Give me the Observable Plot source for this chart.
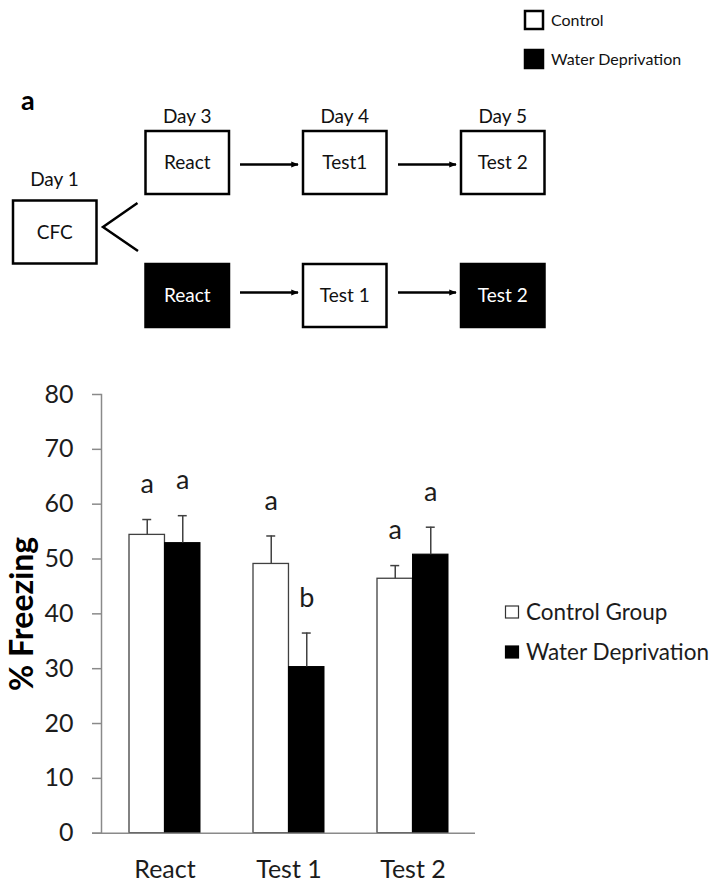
<!DOCTYPE html>
<html>
<head>
<meta charset="utf-8">
<script src="https://cdn.jsdelivr.net/npm/d3@7"></script>
<script src="https://cdn.jsdelivr.net/npm/@observablehq/plot@0.6"></script>
<style>
  html, body { margin: 0; padding: 0; background: #fff; }
  body { width: 715px; height: 886px; position: relative; overflow: hidden; font-family: Lato, "Open Sans", sans-serif; }
  #overlay { position: absolute; left: 0; top: 0; }
  #chart { position: absolute; left: 0; top: 370px; }
  #chart g[aria-label="y-axis tick"] { stroke: #8a8a8a; stroke-width: 1.5; }
</style>
</head>
<body>
<svg id="overlay" width="715" height="886"></svg>
<div id="chart"></div>
<script>
// ---------- data ----------
const categories = ["React", "Test 1", "Test 2"];
const groups = ["Control Group", "Water Deprivation"];
const controlMeans = [54.4, 49.1, 46.4];
const controlErr = [2.8, 5.1, 2.4];
const wdMeans = [52.9, 30.3, 50.8];
const wdErr = [5.0, 6.2, 5.0];
const controlLetters = ["a", "a", "a"];
const wdLetters = ["a", "b", "a"];
const yTicks = [0, 10, 20, 30, 40, 50, 60, 70, 80];
const yLabel = "% Freezing";

// schematic labels
const panelLabel = "a";
const schemeLegend = ["Control", "Water Deprivation"];
const dayLabels = ["Day 1", "Day 3", "Day 4", "Day 5"];
const startStep = "CFC";
const topSteps = ["React", "Test1", "Test 2"];
const bottomSteps = ["React", "Test 1", "Test 2"];
const bottomFilled = [true, false, true];

// ---------- bar chart ----------
const W = 480, H = 516, ML = 101, MR = 5, MT = 24, MB = 53.3;
const padIn = 0.43, padOut = 0.215;
const step = (W - ML - MR) / (categories.length - padIn + 2 * padOut);
const bw = step * (1 - padIn);
const capHalf = 4.5;

const ctrl = categories.map((c, i) => ({cat: c, value: controlMeans[i], top: controlMeans[i] + controlErr[i], letter: controlLetters[i]}));
const wd = categories.map((c, i) => ({cat: c, value: wdMeans[i], top: wdMeans[i] + wdErr[i], letter: wdLetters[i]}));

const axisGray = "#8a8a8a";
const errColor = "#404040";
const textColor = "#1c1c1c";

const chart = Plot.plot({
  width: W, height: H,
  marginLeft: ML, marginRight: MR, marginTop: MT, marginBottom: MB,
  style: {fontFamily: "Lato, 'Open Sans', sans-serif", background: "transparent", overflow: "visible"},
  x: {domain: categories, paddingInner: padIn, paddingOuter: padOut, label: null},
  y: {domain: [0, 80], label: null},
  marks: [
    Plot.axisY({ticks: yTicks, tickSize: 9, tickPadding: 19, fontSize: 25, color: textColor, label: null}),
    Plot.axisX({tickSize: 0, tickPadding: 27, fontSize: 25, color: textColor, label: null}),
    Plot.barY(ctrl, {x: "cat", y: "value", fill: "white", stroke: errColor, strokeWidth: 1.3, insetRight: bw / 2}),
    Plot.barY(wd, {x: "cat", y: "value", fill: "black", stroke: "black", strokeWidth: 1, insetLeft: bw / 2}),
    Plot.ruleX(ctrl, {x: "cat", y1: "value", y2: "top", dx: -bw / 4, stroke: errColor, strokeWidth: 1.5}),
    Plot.ruleX(wd, {x: "cat", y1: "value", y2: "top", dx: bw / 4, stroke: errColor, strokeWidth: 1.5}),
    Plot.tickY(ctrl, {x: "cat", y: "top", insetLeft: bw / 4 - capHalf, insetRight: 3 * bw / 4 - capHalf, stroke: errColor, strokeWidth: 1.5}),
    Plot.tickY(wd, {x: "cat", y: "top", insetLeft: 3 * bw / 4 - capHalf, insetRight: bw / 4 - capHalf, stroke: errColor, strokeWidth: 1.5}),
    Plot.text(ctrl, {x: "cat", y: "top", text: "letter", dx: -bw / 4, dy: -35, fontSize: 27, fill: textColor}),
    Plot.text(wd, {x: "cat", y: "top", text: "letter", dx: bw / 4, dy: -35, fontSize: 27, fill: textColor}),
    Plot.frame({anchor: "left", stroke: axisGray, strokeWidth: 1.5}),
    Plot.ruleY([0], {stroke: axisGray, strokeWidth: 1.5, insetLeft: -9}),
    Plot.text([yLabel], {frameAnchor: "left", textAnchor: "middle", dx: -79, rotate: -90, fontSize: 32, fontWeight: "bold", fill: "#000"})
  ]
});
document.getElementById("chart").appendChild(chart);

// ---------- schematic + legends (overlay) ----------
const svg = d3.select("#overlay");
const font = "Lato, 'Open Sans', sans-serif";
const ink = "#111";

svg.append("defs").append("marker")
  .attr("id", "arrow").attr("viewBox", "0 0 10 10").attr("refX", 9).attr("refY", 5)
  .attr("markerWidth", 3).attr("markerHeight", 3).attr("orient", "auto")
  .append("path").attr("d", "M0,1L10,5L0,9Z").attr("fill", "#000");

// top legend
const schemeFills = ["white", "black"];
schemeLegend.forEach((lab, i) => {
  const y0 = 11 + i * 39;
  svg.append("rect").attr("x", 525).attr("y", y0).attr("width", 18).attr("height", 18)
    .attr("fill", schemeFills[i]).attr("stroke", "#000").attr("stroke-width", 2.5);
  svg.append("text").attr("x", 551).attr("y", y0 + 9).attr("dy", "0.35em")
    .attr("font-family", font).attr("font-size", 16).attr("fill", ink).text(lab);
});

// panel letter
svg.append("text").attr("x", 21).attr("y", 101).attr("dy", "0.35em")
  .attr("font-family", font).attr("font-size", 27).attr("font-weight", "bold").attr("fill", "#000").text(panelLabel);

// boxes
const colX = [145.5, 303, 461];
const boxW = 83.5, boxH = 63;
const topY = 131, botY = 264;
function box(x, y, label, filled) {
  svg.append("rect").attr("x", x).attr("y", y).attr("width", boxW).attr("height", boxH)
    .attr("fill", filled ? "#000" : "#fff").attr("stroke", "#000").attr("stroke-width", 2.5);
  svg.append("text").attr("x", x + boxW / 2).attr("y", y + boxH / 2).attr("dy", "0.35em")
    .attr("text-anchor", "middle").attr("font-family", font).attr("font-size", 19)
    .attr("fill", filled ? "#fff" : ink).text(label);
}
box(13, 200.5, startStep, false);
topSteps.forEach((s, i) => box(colX[i], topY, s, false));
bottomSteps.forEach((s, i) => box(colX[i], botY, s, bottomFilled[i]));

// day labels
const dayPos = [[54.5, 179], [colX[0] + boxW / 2, 116], [colX[1] + boxW / 2, 116], [colX[2] + boxW / 2, 116]];
dayLabels.forEach((d, i) => {
  svg.append("text").attr("x", dayPos[i][0]).attr("y", dayPos[i][1]).attr("dy", "0.35em")
    .attr("text-anchor", "middle").attr("font-family", font).attr("font-size", 19).attr("fill", ink).text(d);
});

// arrows
[[topY + boxH / 2 + 2], [botY + boxH / 2 - 3]].forEach(([y]) => {
  [[240, 298], [398, 456]].forEach(([a, b]) => {
    svg.append("line").attr("x1", a).attr("x2", b).attr("y1", y).attr("y2", y)
      .attr("stroke", "#000").attr("stroke-width", 2.5).attr("marker-end", "url(#arrow)");
  });
});
// fork
svg.append("polyline").attr("points", "137.5,203 103,227 138,251")
  .attr("fill", "none").attr("stroke", "#000").attr("stroke-width", 2.5);

// chart legend
const groupFills = ["white", "black"];
groups.forEach((g, i) => {
  const cy = 612 + i * 40;
  svg.append("rect").attr("x", 505.5).attr("y", cy - 6).attr("width", 13).attr("height", 12)
    .attr("fill", groupFills[i]).attr("stroke", i === 0 ? "#333" : "#000").attr("stroke-width", 1.2);
  svg.append("text").attr("x", 526).attr("y", cy).attr("dy", "0.35em")
    .attr("font-family", font).attr("font-size", 22.5).attr("fill", textColor).text(g);
});
</script>
</body>
</html>
